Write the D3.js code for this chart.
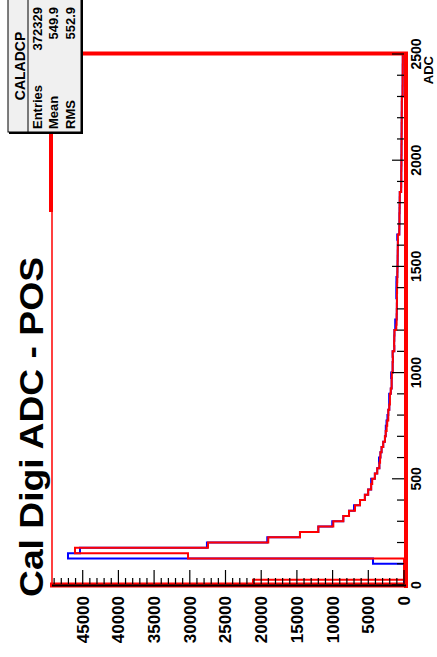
<!DOCTYPE html>
<html>
<head>
<meta charset="utf-8">
<script src="https://cdn.jsdelivr.net/npm/d3@7.9.0/dist/d3.min.js"></script>
<style>
  html, body { margin: 0; padding: 0; background: #fff; }
  svg { display: block; font-family: "Liberation Sans", Arial, Helvetica, sans-serif; font-weight: bold; }
</style>
</head>
<body>
<svg id="chart" width="437" height="657"></svg>
<script>
// ADC histogram, 100 bins of 25 from 0 to 2500
const binWidth = 25;
const adcRange = [0, 2500];
const countMax = 49300;

const redCounts = [
  21150, 0, 0, 0, 0, 30250, 46080, 27450, 19010, 14570,
  12000, 9900, 8500, 7700, 6860, 6160, 5480, 5020, 4600, 4450,
  4080, 3750, 3450, 3350, 3300, 3140, 2910, 2670, 2560, 2430,
  2350, 2200, 2200, 2060, 1970, 1970, 1850, 1730, 1730, 1700,
  1590, 1590, 1560, 1590, 1360, 1380, 1360, 1340, 1080, 1030,
  1025, 1010, 1000, 990, 990, 970, 960, 940, 930, 920,
  900, 890, 880, 870, 860, 850, 660, 650, 640, 640,
  620, 610, 600, 590, 400, 390, 380, 380, 370, 360,
  360, 350, 350, 340, 340, 330, 330, 320, 320, 310,
  310, 300, 200, 200, 190, 190, 180, 180, 170, 170
];

const blueCounts = [
  0, 0, 0, 0, 4340, 47060, 45380, 27600, 19150, 14570,
  12000, 10050, 8500, 7700, 7000, 6160, 5480, 5020, 4600, 4600,
  4080, 3750, 3450, 3500, 3300, 3140, 2910, 2670, 2560, 2550,
  2450, 2320, 2200, 2060, 2080, 2080, 1850, 1730, 1730, 1800,
  1590, 1590, 1560, 1590, 1360, 1380, 1360, 1340, 1230, 1230,
  1025, 1010, 1000, 990, 1080, 1080, 1070, 1060, 930, 920,
  900, 890, 880, 870, 860, 950, 660, 650, 640, 640,
  620, 610, 600, 590, 400, 390, 380, 380, 370, 360,
  360, 350, 350, 340, 340, 330, 330, 320, 320, 310,
  310, 300, 200, 200, 190, 190, 180, 180, 170, 170
];

const countTicks = [0, 5000, 10000, 15000, 20000, 25000, 30000, 35000, 40000, 45000];
const adcTicks = [0, 500, 1000, 1500, 2000, 2500];

const title = "Cal Digi ADC - POS";
const axisTitle = "ADC";
const statName = "CALADCP";
const statLabels = ["Entries", "Mean", "RMS"];
const statValues = ["372329", "549.9", "552.9"];

const svg = d3.select("#chart");

// rotated pad: ADC runs up the page, counts run right to left
const adcScale = d3.scaleLinear().domain(adcRange).range([585, 54]);
const countScale = d3.scaleLinear().domain([0, countMax]).range([404, 52]);

function histPoints(counts) {
  let pts = [[adcRange[0], 0]];
  counts.forEach((c, i) => {
    pts.push([i * binWidth, c]);
    pts.push([(i + 1) * binWidth, c]);
  });
  pts.push([adcRange[1], 0]);
  return pts;
}

let histLine = d3.line()
  .x(d => countScale(d[1]))
  .y(d => adcScale(d[0]));

svg.append("path")
  .attr("d", histLine(histPoints(blueCounts)))
  .attr("fill", "none")
  .attr("stroke", "#0000ff")
  .attr("stroke-width", 2);

svg.append("path")
  .attr("d", histLine(histPoints(redCounts)))
  .attr("fill", "none")
  .attr("stroke", "#ff0000")
  .attr("stroke-width", 2);

// frame (red, thick in parts like the original)
const frame = svg.append("g").attr("stroke", "#ff0000").attr("fill", "none");
frame.append("line").attr("x1", 82).attr("x2", 408).attr("y1", 53.5).attr("y2", 53.5).attr("stroke-width", 4);
frame.append("line").attr("x1", 406).attr("x2", 406).attr("y1", 52).attr("y2", 588).attr("stroke-width", 4);
frame.append("line").attr("x1", 50).attr("x2", 408).attr("y1", 585).attr("y2", 585).attr("stroke-width", 5);
frame.append("line").attr("x1", 51).attr("x2", 51).attr("y1", 133).attr("y2", 212).attr("stroke-width", 4);
frame.append("line").attr("x1", 52).attr("x2", 52).attr("y1", 212).attr("y2", 586).attr("stroke-width", 1.5);

svg.append("line")
  .attr("x1", 52).attr("x2", 406).attr("y1", 585.5).attr("y2", 585.5)
  .attr("stroke", "#000").attr("stroke-width", 2);

// count axis ticks along the bottom, pointing up
const ticks = svg.append("g").attr("stroke", "#000").attr("stroke-width", 1.2);
d3.range(0, countMax, 1000).forEach(v => {
  let len = v % 5000 === 0 ? 14 : 6;
  ticks.append("line")
    .attr("x1", countScale(v)).attr("x2", countScale(v))
    .attr("y1", 584).attr("y2", 584 - len);
});

// ADC axis ticks along the right, pointing left
d3.range(0, adcRange[1] + 1, 100).forEach(v => {
  let len = v % 500 === 0 ? 12 : 7;
  ticks.append("line")
    .attr("x1", 404).attr("x2", 404 - len)
    .attr("y1", adcScale(v)).attr("y2", adcScale(v));
});

countTicks.forEach(v => {
  svg.append("text")
    .attr("transform", `translate(${countScale(v)},596) rotate(-90)`)
    .attr("text-anchor", "end")
    .attr("dy", "0.35em")
    .attr("font-size", 17)
    .text(v);
});

adcTicks.forEach(v => {
  svg.append("text")
    .attr("transform", `translate(416,${adcScale(v)}) rotate(-90)`)
    .attr("text-anchor", "middle")
    .attr("dy", "0.35em")
    .attr("font-size", 14)
    .text(v);
});

svg.append("text")
  .attr("transform", "translate(433,56) rotate(-90)")
  .attr("text-anchor", "end")
  .attr("font-size", 13)
  .text(axisTitle);

svg.append("text")
  .attr("transform", "translate(43,597) rotate(-90)")
  .attr("text-anchor", "start")
  .attr("font-size", 33)
  .attr("textLength", 340)
  .attr("lengthAdjust", "spacingAndGlyphs")
  .text(title);

// stats box
const stats = svg.append("g");
stats.append("rect")
  .attr("x", 8).attr("y", -1).attr("width", 73).attr("height", 133)
  .attr("fill", "#f0f0f0").attr("stroke", "#000").attr("stroke-width", 1);
stats.append("line")
  .attr("x1", 82).attr("x2", 82).attr("y1", 0).attr("y2", 134)
  .attr("stroke", "#000").attr("stroke-width", 2);
stats.append("line")
  .attr("x1", 9).attr("x2", 83).attr("y1", 133).attr("y2", 133)
  .attr("stroke", "#000").attr("stroke-width", 2);
stats.append("line")
  .attr("x1", 28).attr("x2", 28).attr("y1", 0).attr("y2", 132)
  .attr("stroke", "#000").attr("stroke-width", 1);

stats.append("text")
  .attr("transform", "translate(25,66) rotate(-90)")
  .attr("text-anchor", "middle")
  .attr("font-size", 14)
  .text(statName);

const rowX = [42, 58, 75];
statLabels.forEach((lab, i) => {
  stats.append("text")
    .attr("transform", `translate(${rowX[i]},129) rotate(-90)`)
    .attr("text-anchor", "start")
    .attr("font-size", 13)
    .text(lab);
  stats.append("text")
    .attr("transform", `translate(${rowX[i]},7) rotate(-90)`)
    .attr("text-anchor", "end")
    .attr("font-size", 13)
    .text(statValues[i]);
});
</script>
</body>
</html>
